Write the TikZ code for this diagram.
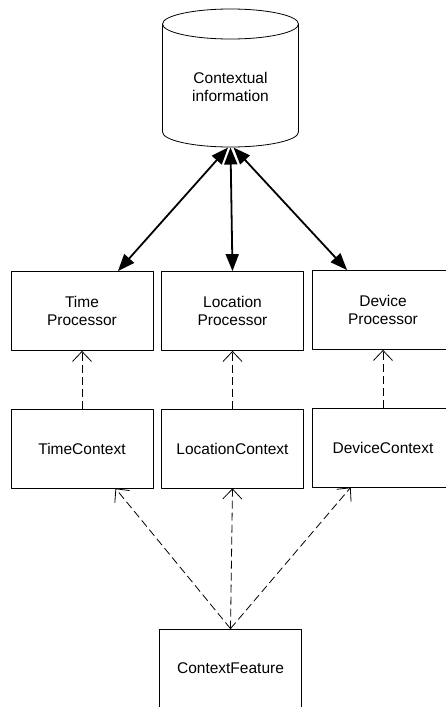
\documentclass[tikz,border=0pt]{standalone}
\usepackage{fontspec}
\setmainfont{Liberation Sans}
\usetikzlibrary{arrows.meta}

\begin{document}
\begin{tikzpicture}[x=1pt, y=-1pt, line join=round, font=\fontsize{15.5}{18}\selectfont,
	box/.style={draw, line width=0.8pt, minimum width=142pt, minimum height=79pt, align=center, inner sep=0pt},
	link/.style={line width=1.8pt, {Triangle[length=17pt,width=13pt]}-{Triangle[length=17pt,width=13pt]}},
	uses/.style={line width=0.8pt, dash pattern=on 8pt off 4pt, -{Straight Barb[length=10pt,width=19pt,line width=0.8pt]}}]
	\def\rowa{311} \def\rowb{448.5}
	\def\rx{68pt} \def\ry{15pt}
	\useasboundingbox (0,0) rectangle (445,707);
	% data store
	\draw[line width=0.8pt] (230.5,24) ellipse [x radius=\rx, y radius=\ry];
	\draw[line width=0.8pt] (162.5,24) -- (162.5,132)
		arc[start angle=180, end angle=360, x radius=\rx, y radius=\ry] -- (298.5,24);
	\node[align=center] (info) at (230.5,87) {Contextual\\information};
	\coordinate (infobot) at (230.5,147.5);
	\coordinate (infobotl) at (228,147.5);
	\coordinate (infobotr) at (233.5,147.5);
	% processors
	\node[box] (tp) at (82,\rowa) {Time\\Processor};
	\node[box] (lp) at (232.5,\rowa) {Location\\Processor};
	\node[box] (dp) at (383,\rowa-1) {Device\\Processor};
	% contexts
	\node[box] (tc) at (82,\rowb) {TimeContext};
	\node[box] (lc) at (232.5,\rowb) {LocationContext};
	\node[box] (dc) at (383,\rowb-1) {DeviceContext};
	\node[box] (cf) at (230.5,668.5) {ContextFeature};
	% store <-> processors
	\draw[link] (infobotl) -- (tp.48);
	\draw[link] (infobot) -- (lp.north);
	\draw[link] (infobotr) -- (dp.132);
	% contexts feed the processors
	\foreach \c/\p in {tc/tp, lc/lp, dc/dp}
		\draw[uses] (\c.north) -- (\p.south);
	\draw[uses] (cf.north) -- (tc.-50);
	\draw[uses] (cf.north) -- (lc.south);
	\draw[uses] (cf.north) -- (dc.-129);
\end{tikzpicture}
\end{document}
